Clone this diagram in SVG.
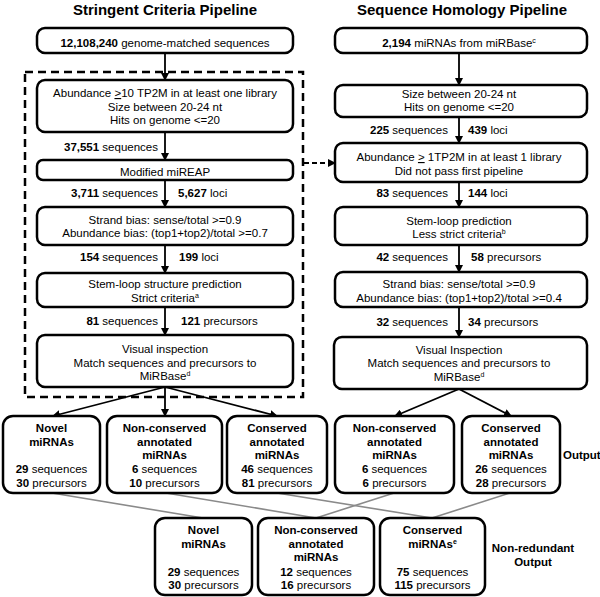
<svg xmlns="http://www.w3.org/2000/svg" width="600" height="597" viewBox="0 0 600 597">
<defs>
<marker id="ah" markerWidth="8" markerHeight="8" refX="7" refY="4" orient="auto" markerUnits="userSpaceOnUse">
<path d="M0,0 L8,4 L0,8 Z" fill="#000"/>
</marker>
<style>
text{font-family:"Liberation Sans",Arial,sans-serif;font-size:11.5px;fill:#000;text-anchor:middle}
.t{font-size:15px;font-weight:bold}
.b{font-weight:bold}
.h{font-weight:bold;font-size:11.5px}
.l{text-anchor:end}
.r{text-anchor:start}
.s{font-size:7px}
rect.n{fill:#fff;stroke:#000;stroke-width:2.5}
.a{stroke:#000;stroke-width:1.8;fill:none;marker-end:url(#ah)}
.g{stroke:#8a8a8a;stroke-width:1.6;fill:none}
</style>
</defs>
<rect width="600" height="597" fill="#fff"/>
<text class="t" x="165" y="15">Stringent Criteria Pipeline</text>
<text class="t" x="462" y="15">Sequence Homology Pipeline</text>
<rect x="25" y="72" width="278" height="325" fill="none" stroke="#000" stroke-width="2.5" stroke-dasharray="8,5"/>
<g id="connectors">
<line class="a" x1="165" y1="53" x2="165" y2="80"/>
<line class="a" x1="165" y1="132" x2="165" y2="160"/>
<line class="a" x1="165" y1="180" x2="165" y2="207"/>
<line class="a" x1="165" y1="245" x2="165" y2="273"/>
<line class="a" x1="165" y1="307" x2="165" y2="335"/>
<line class="a" x1="165" y1="387" x2="53" y2="416"/>
<line class="a" x1="165" y1="387" x2="165" y2="416"/>
<line class="a" x1="165" y1="387" x2="277" y2="416"/>
<line class="a" x1="459" y1="53" x2="459" y2="85"/>
<line class="a" x1="459" y1="117" x2="459" y2="143"/>
<line class="a" x1="459" y1="182" x2="459" y2="207"/>
<line class="a" x1="459" y1="245" x2="459" y2="272"/>
<line class="a" x1="459" y1="307" x2="459" y2="337"/>
<line class="a" x1="459" y1="389" x2="395" y2="416"/>
<line class="a" x1="459" y1="389" x2="511" y2="416"/>
<line class="a" x1="304" y1="163" x2="335" y2="163" stroke-dasharray="5,3"/>
<line class="g" x1="52" y1="493" x2="203" y2="518"/>
<line class="g" x1="166" y1="493" x2="316" y2="518"/>
<line class="g" x1="277" y1="493" x2="432" y2="518"/>
<line class="g" x1="394" y1="493" x2="316" y2="518"/>
<line class="g" x1="510" y1="493" x2="432" y2="518"/>
</g>
<g id="s1"><rect class="n" x="37" y="28" width="256" height="25" rx="8"/><text x="165" y="47"><tspan class="b">12,108,240</tspan> genome-matched sequences</text></g>
<g id="s2"><rect class="n" x="37" y="80" width="256" height="52" rx="8"/>
<text x="165" y="97">Abundance <tspan text-decoration="underline">&gt;</tspan>10 TP2M in at least one library</text>
<text x="165" y="111">Size between 20-24 nt</text>
<text x="165" y="124">Hits on genome &lt;=20</text></g>
<text class="l" x="158" y="151"><tspan class="b">37,551</tspan> sequences</text>
<g id="s3"><rect class="n" x="37" y="160" width="256" height="20" rx="6"/><text x="165" y="176">Modified miREAP</text></g>
<text class="l" x="158" y="197"><tspan class="b">3,711</tspan> sequences</text>
<text class="r" x="178" y="197"><tspan class="b">5,627</tspan> loci</text>
<g id="s4"><rect class="n" x="37" y="207" width="256" height="38" rx="8"/>
<text x="165" y="224">Strand bias: sense/total &gt;=0.9</text>
<text x="165" y="237">Abundance bias: (top1+top2)/total &gt;=0.7</text></g>
<text class="l" x="158" y="261"><tspan class="b">154</tspan> sequences</text>
<text class="r" x="179" y="261"><tspan class="b">199</tspan> loci</text>
<g id="s5"><rect class="n" x="37" y="273" width="256" height="34" rx="8"/>
<text x="165" y="288">Stem-loop structure prediction</text>
<text x="165" y="302">Strict criteria<tspan class="s" dy="-4">a</tspan></text></g>
<text class="l" x="158" y="325"><tspan class="b">81</tspan> sequences</text>
<text class="r" x="181" y="325"><tspan class="b">121</tspan> precursors</text>
<g id="s6"><rect class="n" x="37" y="335" width="256" height="52" rx="8"/>
<text x="165" y="353">Visual inspection</text>
<text x="165" y="367">Match sequences and precursors to</text>
<text x="165" y="380">MiRBase<tspan class="s" dy="-4">d</tspan></text></g>
<g id="h1"><rect class="n" x="335" y="28" width="252" height="25" rx="8"/><text x="459" y="47"><tspan class="b">2,194</tspan> miRNAs from miRBase<tspan class="s" dy="-4">c</tspan></text></g>
<g id="h2"><rect class="n" x="335" y="85" width="252" height="32" rx="8"/>
<text x="459" y="98">Size between 20-24 nt</text>
<text x="459" y="111">Hits on genome &lt;=20</text></g>
<text class="l" x="448" y="134"><tspan class="b">225</tspan> sequences</text>
<text class="r" x="468" y="134"><tspan class="b">439</tspan> loci</text>
<g id="h3"><rect class="n" x="335" y="143" width="252" height="39" rx="8"/>
<text x="459" y="161">Abundance <tspan text-decoration="underline">&gt;</tspan> 1TP2M in at least 1 library</text>
<text x="459" y="175">Did not pass first pipeline</text></g>
<text class="l" x="448" y="197"><tspan class="b">83</tspan> sequences</text>
<text class="r" x="468" y="197"><tspan class="b">144</tspan> loci</text>
<g id="h4"><rect class="n" x="335" y="207" width="252" height="38" rx="8"/>
<text x="459" y="225">Stem-loop prediction</text>
<text x="459" y="238">Less strict criteria<tspan class="s" dy="-4">b</tspan></text></g>
<text class="l" x="448" y="261"><tspan class="b">42</tspan> sequences</text>
<text class="r" x="471" y="261"><tspan class="b">58</tspan> precursors</text>
<g id="h5"><rect class="n" x="335" y="272" width="252" height="35" rx="8"/>
<text x="459" y="288">Strand bias: sense/total &gt;=0.9</text>
<text x="459" y="302">Abundance bias: (top1+top2)/total &gt;=0.4</text></g>
<text class="l" x="448" y="326"><tspan class="b">32</tspan> sequences</text>
<text class="r" x="468" y="326"><tspan class="b">34</tspan> precursors</text>
<g id="h6"><rect class="n" x="334" y="337" width="253" height="52" rx="8"/>
<text x="459" y="354">Visual Inspection</text>
<text x="459" y="367">Match sequences and precursors to</text>
<text x="459" y="381">MiRBase<tspan class="s" dy="-4">d</tspan></text></g>
<g id="o1"><rect class="n" x="3" y="416" width="97" height="77" rx="10"/>
<text class="h" x="51.5" y="432">Novel</text><text class="h" x="51.5" y="446">miRNAs</text>
<text x="51.5" y="473"><tspan class="b">29</tspan> sequences</text><text x="51.5" y="487"><tspan class="b">30</tspan> precursors</text></g>
<g id="o2"><rect class="n" x="107" y="416" width="115" height="77" rx="10"/>
<text class="h" x="164.5" y="432">Non-conserved</text><text class="h" x="164.5" y="446">annotated</text><text class="h" x="164.5" y="459">miRNAs</text>
<text x="164.5" y="473"><tspan class="b">6</tspan> sequences</text><text x="164.5" y="487"><tspan class="b">10</tspan> precursors</text></g>
<g id="o3"><rect class="n" x="227" y="416" width="100" height="77" rx="10"/>
<text class="h" x="277" y="432">Conserved</text><text class="h" x="277" y="446">annotated</text><text class="h" x="277" y="459">miRNAs</text>
<text x="277" y="473"><tspan class="b">46</tspan> sequences</text><text x="277" y="487"><tspan class="b">81</tspan> precursors</text></g>
<g id="o4"><rect class="n" x="335" y="416" width="119" height="77" rx="10"/>
<text class="h" x="394.5" y="432">Non-conserved</text><text class="h" x="394.5" y="446">annotated</text><text class="h" x="394.5" y="459">miRNAs</text>
<text x="394.5" y="473"><tspan class="b">6</tspan> sequences</text><text x="394.5" y="487"><tspan class="b">6</tspan> precursors</text></g>
<g id="o5"><rect class="n" x="462" y="416" width="98" height="77" rx="10"/>
<text class="h" x="511" y="432">Conserved</text><text class="h" x="511" y="446">annotated</text><text class="h" x="511" y="459">miRNAs</text>
<text x="511" y="473"><tspan class="b">26</tspan> sequences</text><text x="511" y="487"><tspan class="b">28</tspan> precursors</text></g>
<text class="h r" x="563" y="459">Output</text>
<g id="n1"><rect class="n" x="155" y="518" width="97" height="77" rx="10"/>
<text class="h" x="203.5" y="534">Novel</text><text class="h" x="203.5" y="547.5">miRNAs</text>
<text x="203.5" y="575.5"><tspan class="b">29</tspan> sequences</text><text x="203.5" y="589"><tspan class="b">30</tspan> precursors</text></g>
<g id="n2"><rect class="n" x="258" y="518" width="116" height="77" rx="10"/>
<text class="h" x="316" y="534">Non-conserved</text><text class="h" x="316" y="547.5">annotated</text><text class="h" x="316" y="561">miRNAs</text>
<text x="316" y="575.5"><tspan class="b">12</tspan> sequences</text><text x="316" y="589"><tspan class="b">16</tspan> precursors</text></g>
<g id="n3"><rect class="n" x="380" y="518" width="105" height="77" rx="10"/>
<text class="h" x="432.5" y="534">Conserved</text><text class="h" x="432.5" y="547.5">miRNAs<tspan class="s" dy="-4">e</tspan></text>
<text x="432.5" y="575.5"><tspan class="b">75</tspan> sequences</text><text x="432.5" y="589"><tspan class="b">115</tspan> precursors</text></g>
<text class="h" x="533" y="552">Non-redundant</text>
<text class="h" x="533" y="566">Output</text>
</svg>
